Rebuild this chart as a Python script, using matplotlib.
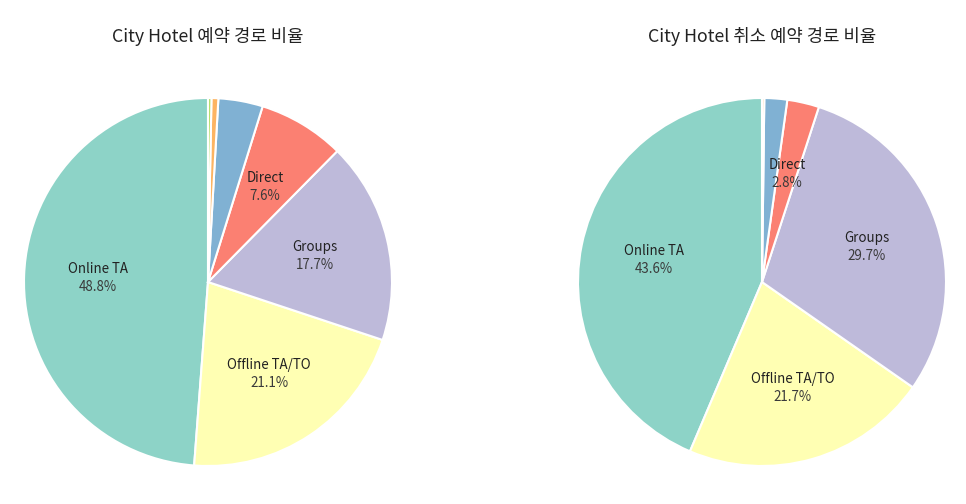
import matplotlib
matplotlib.use("Agg")
import matplotlib.pyplot as plt
from matplotlib.transforms import offset_copy

plt.rcParams['font.family'] = ['Noto Sans CJK KR', 'DejaVu Sans']

categories = ["Online TA", "Offline TA/TO", "Groups", "Direct", "Corporate", "Complementary", "Aviation"]
colors = ["#8dd3c7", "#ffffb3", "#bebada", "#fb8072", "#80b1d3", "#fdb462", "#b3de69"]

left_title = "City Hotel 예약 경로 비율"
left_values = [48.8, 21.1, 17.7, 7.6, 3.9, 0.6, 0.3]

right_title = "City Hotel 취소 예약 경로 비율"
right_cats = ["Online TA", "Offline TA/TO", "Groups", "Direct", "Corporate", "Complementary"]
right_values = [43.6, 21.7, 29.7, 2.8, 2.0, 0.2]

labeled = {"Online TA", "Offline TA/TO", "Groups", "Direct"}

W, H = 966, 504
fig = plt.figure(figsize=(W / 100, H / 100), dpi=100)

def draw(cx, title, cats, vals):
    R = 184 * 1.01
    ax = fig.add_axes([(cx - R) / W, (H - 282 - R) / H, 2 * R / W, 2 * R / H])
    names = [c if c in labeled else "" for c in cats]
    def fmt(p, it=iter(cats)):
        c = next(it)
        return f"{p:.1f}%" if c in labeled else ""
    wedges, texts, autotexts = ax.pie(
        vals, labels=names, colors=colors[:len(vals)], startangle=90,
        counterclock=True, labeldistance=0.6, pctdistance=0.6,
        autopct=fmt, wedgeprops=dict(edgecolor="white", linewidth=1.5),
        textprops=dict(fontsize=9.6))
    for t in texts:
        t.set_va("bottom")
        t.set_ha("center")
        t.set_fontweight("medium")
        t.set_color("#222222")
        t.set_transform(offset_copy(t.get_transform(), fig, y=2, units="dots"))
    for t in autotexts:
        t.set_va("top")
        t.set_color("#3a3a3a")
        t.set_transform(offset_copy(t.get_transform(), fig, y=-2, units="dots"))
    ax.set_xlim(-1.01, 1.01)
    ax.set_ylim(-1.01, 1.01)
    ax.set_aspect("equal")
    ax.set_title(title, fontsize=12.8, pad=39, color="#222222")

draw(208, left_title, categories, left_values)
draw(762, right_title, right_cats, right_values)

fig.savefig("out.png", dpi=100)
